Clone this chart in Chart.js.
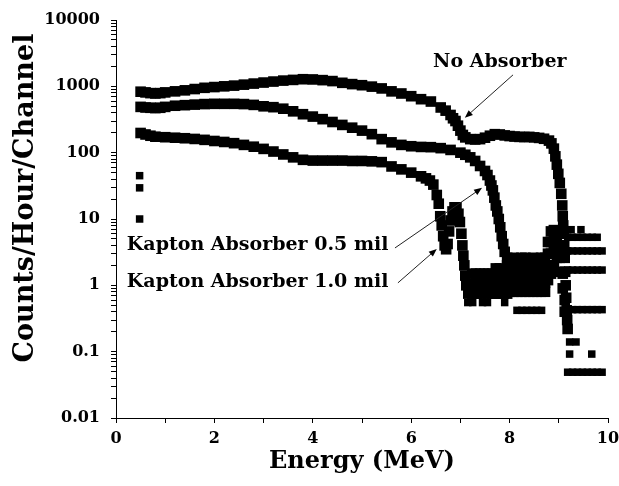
<!DOCTYPE html>
<html>
<head>
<meta charset="utf-8">
<title>Energy spectrum</title>
<script src="https://cdn.jsdelivr.net/npm/chart.js@4.4.1/dist/chart.umd.min.js"></script>
<style>
    html, body { margin: 0; padding: 0; background: #fff; }
    canvas { display: block; }
</style>
</head>
<body>
<canvas id="spectrum" width="619" height="486"></canvas>
<script>
/* Counts per hour per channel vs energy, three absorber settings */

// No absorber
var noAbsE = [0.5, 0.6, 0.7, 0.8, 0.9, 1.0, 1.2, 1.4, 1.6, 1.8, 2.0, 2.2, 2.4, 2.6, 2.8, 3.0,
    3.2, 3.4, 3.6, 3.8, 4.0, 4.2, 4.4, 4.6, 4.8, 5.0, 5.2, 5.4, 5.6, 5.8, 6.0, 6.2, 6.4, 6.6,
    6.7, 6.8, 6.85, 6.9, 6.95, 7.0, 7.05,
    7.1, 7.2, 7.3, 7.4, 7.5, 7.6, 7.7, 7.8, 7.9, 8.0, 8.1, 8.2, 8.3, 8.4, 8.5, 8.6, 8.7, 8.8,
    8.85, 8.9, 8.93, 8.96, 8.99, 9.02, 9.05, 9.07, 9.08, 9.09,
    9.1, 9.11, 9.12, 9.13, 9.14, 9.15, 9.16, 9.17, 9.18];
var noAbsY = [830, 810, 790, 780, 790, 810, 840, 870, 910, 950, 975, 1000, 1025, 1060, 1100, 1140,
    1180, 1220, 1250, 1280, 1270, 1240, 1200, 1130, 1080, 1040, 990, 930, 840, 780, 710, 640, 590, 480,
    430, 370, 330, 300, 255, 215, 185,
    170, 160, 158, 160, 168, 180, 190, 188, 182, 178, 175, 173, 172, 173, 170, 167, 162, 152,
    138, 115, 88, 66, 48, 35, 24, 16, 11, 8,
    6, 4, 2.6, 1.6, 1.0, 0.65, 0.42, 0.3, 0.22];

// Kapton absorber 0.5 mil
var kap05E = [0.5, 0.6, 0.7, 0.8, 0.9, 1.0, 1.2, 1.4, 1.6, 1.8, 2.0, 2.2, 2.4, 2.6, 2.8, 3.0,
    3.2, 3.4, 3.6, 3.8, 4.0, 4.2, 4.4, 4.6, 4.8, 5.0, 5.2, 5.4, 5.6, 5.8, 6.0, 6.2, 6.4, 6.6, 6.8,
    7.0, 7.1, 7.2, 7.3, 7.4, 7.5, 7.55, 7.6, 7.63, 7.66, 7.69, 7.72, 7.75, 7.78, 7.81, 7.84, 7.87, 7.9,
    7.95, 7.95, 7.95, 8.0, 8.0, 8.0, 8.0, 8.08, 8.08, 8.08, 8.08, 8.16, 8.16, 8.16, 8.16,
    8.24, 8.24, 8.24, 8.24, 8.32, 8.32, 8.32, 8.32, 8.4, 8.4, 8.4, 8.4, 8.48, 8.48, 8.48, 8.48,
    8.56, 8.56, 8.56, 8.56, 8.64, 8.64, 8.64, 8.64, 8.72, 8.72, 8.72, 8.72,
    8.78, 8.78, 8.78, 8.78, 8.84, 8.84, 8.84, 8.84, 8.9, 8.9, 8.9, 8.9,
    8.96, 8.96, 8.96, 9.02, 9.02, 9.02, 9.08, 9.08, 9.08, 9.12, 9.12];
var kap05Y = [490, 480, 475, 470, 475, 490, 510, 520, 530, 540, 545, 545, 545, 540, 525, 500,
    485, 460, 420, 380, 350, 320, 290, 262, 238, 215, 190, 160, 143, 131, 125, 122, 121, 117, 110,
    100, 93, 85, 75, 63, 53, 46, 38, 32, 27, 21, 16, 13, 10, 7.5, 5.5, 4.2, 3.2,
    2.6, 2.0, 1.5, 2.0, 1.5, 1.1, 0.8, 2.6, 1.5, 1.1, 0.8, 2.0, 1.5, 1.1, 0.8,
    2.6, 2.0, 1.1, 0.8, 2.6, 1.5, 1.1, 0.8, 2.0, 1.5, 1.1, 0.8, 2.6, 2.0, 1.5, 0.8,
    2.0, 1.5, 1.1, 0.8, 2.6, 1.5, 1.1, 0.8, 2.6, 2.0, 1.1, 0.8,
    4.5, 3.0, 2.0, 1.2, 6.5, 4.5, 3.0, 1.5, 6.8, 5.0, 3.4, 2.0,
    6.0, 4.5, 2.6, 4.0, 2.6, 1.6, 3.0, 1.5, 0.9, 0.6, 0.4];

// Kapton absorber 1.0 mil
var kap10E = [0.5, 0.6, 0.7, 0.8, 1.0, 1.2, 1.4, 1.6, 1.8, 2.0, 2.2, 2.4, 2.6, 2.8, 3.0, 3.2,
    3.4, 3.6, 3.8, 4.0, 4.2, 4.4, 4.6, 4.8, 5.0, 5.2, 5.4, 5.6, 5.8, 6.0, 6.2, 6.3, 6.38, 6.45,
    6.52, 6.56, 6.59, 6.62, 6.65, 6.68, 6.71, 6.74, 6.77, 6.8, 6.84, 6.88, 6.92, 6.96, 6.99,
    7.02, 7.04, 7.06, 7.08, 7.1, 7.12,
    7.16, 7.16, 7.24, 7.24, 7.24, 7.32, 7.32, 7.32, 7.4, 7.4, 7.4, 7.48, 7.48, 7.48,
    7.56, 7.56, 7.56, 7.64, 7.64, 7.64, 7.72, 7.72, 7.72, 7.72, 7.8, 7.8, 7.8, 7.8,
    7.88, 7.88, 7.88, 7.95, 7.95, 7.95];
var kap10Y = [198, 188, 180, 174, 171, 168, 165, 161, 156, 150, 145, 139, 131, 123, 114, 104,
    94, 85, 78, 76, 76, 76, 76, 75, 75, 74, 72, 62, 56, 50, 44, 41, 38, 33,
    23, 17, 11, 8, 5.5, 4, 3.5, 4.2, 6.5, 9.5, 13, 15, 15, 12, 9,
    6, 4, 2.8, 2, 1.4, 1.0,
    1.05, 0.75, 1.5, 1.05, 0.75, 1.5, 1.05, 0.75, 1.5, 1.05, 0.75, 1.5, 1.05, 0.75,
    1.5, 1.05, 0.75, 1.5, 1.05, 0.75, 1.8, 1.5, 1.05, 0.75, 1.8, 1.5, 1.05, 0.75,
    1.5, 1.05, 0.75, 1.5, 1.05, 0.75];

// Isolated low-count channels (single squares and the flat rows past 9 MeV)
var lowE = [0.48, 0.48, 0.48,
    7.15, 7.25, 7.45, 7.55, 7.9,
    8.15, 8.25, 8.35, 8.45, 8.55, 8.65,
    9.25, 9.45,
    9.18, 9.28, 9.38, 9.48, 9.58, 9.68, 9.78,
    9.18, 9.28, 9.38, 9.48, 9.58, 9.68, 9.78, 9.88,
    9.18, 9.28, 9.38, 9.48, 9.58, 9.68, 9.78, 9.88,
    9.18, 9.28, 9.38, 9.48, 9.58, 9.68, 9.78, 9.88,
    9.22, 9.35, 9.22, 9.67,
    9.18, 9.28, 9.38, 9.48, 9.58, 9.68, 9.78, 9.88];
var lowY = [45, 29.5, 10,
    0.55, 0.55, 0.55, 0.55, 0.55,
    0.42, 0.42, 0.42, 0.42, 0.42, 0.42,
    6.9, 6.9,
    5.3, 5.3, 5.3, 5.3, 5.3, 5.3, 5.3,
    3.3, 3.3, 3.3, 3.3, 3.3, 3.3, 3.3, 3.3,
    1.7, 1.7, 1.7, 1.7, 1.7, 1.7, 1.7, 1.7,
    0.43, 0.43, 0.43, 0.43, 0.43, 0.43, 0.43, 0.43,
    0.14, 0.14, 0.092, 0.092,
    0.049, 0.049, 0.049, 0.049, 0.049, 0.049, 0.049, 0.049];

var yDecades = [0.01, 0.1, 1, 10, 100, 1000, 10000];
var yDecadeLabels = ['0.01', '0.1', '1', '10', '100', '1000', '10000'];
var xLabelled = [0, 2, 4, 6, 8, 10];

var notes = [
    { text: 'No Absorber', at: [7.8, 2340], align: 'center', from: [8.07, 1490], to: [7.09, 335] },
    { text: 'Kapton Absorber 0.5 mil', at: [0.22, 4.06], align: 'left', from: [5.67, 3.66], to: [7.44, 29.5] },
    { text: 'Kapton Absorber 1.0 mil', at: [0.22, 1.12], align: 'left', from: [5.73, 1.09], to: [6.52, 3.54] }
];

var FONT = '"DejaVu Serif", "Liberation Serif", serif';

function toPoints(xs, ys) {
    return xs.map(function (x, i) { return { x: x, y: ys[i] }; });
}

function squares(label, xs, ys, radius) {
    return {
        label: label,
        data: toPoints(xs, ys),
        pointStyle: 'rect',
        pointRadius: radius,
        pointBorderWidth: 0,
        backgroundColor: '#000',
        borderColor: '#000',
        showLine: false
    };
}

function drawArrow(c, x1, y1, x2, y2) {
    var ang = Math.atan2(y2 - y1, x2 - x1);
    var len = 8, half = 3.2;
    c.beginPath();
    c.moveTo(x1, y1);
    c.lineTo(x2 - Math.cos(ang) * len * 0.6, y2 - Math.sin(ang) * len * 0.6);
    c.stroke();
    c.beginPath();
    c.moveTo(x2, y2);
    c.lineTo(x2 - Math.cos(ang) * len + Math.sin(ang) * half, y2 - Math.sin(ang) * len - Math.cos(ang) * half);
    c.lineTo(x2 - Math.cos(ang) * len - Math.sin(ang) * half, y2 - Math.sin(ang) * len + Math.cos(ang) * half);
    c.closePath();
    c.fill();
}

var notesPlugin = {
    id: 'notes',
    afterDraw: function (chart) {
        var c = chart.ctx;
        var sx = chart.scales.x, sy = chart.scales.y;
        c.save();
        c.fillStyle = '#000';
        c.strokeStyle = '#222';
        c.lineWidth = 1;
        c.textBaseline = 'middle';
        c.font = 'bold 19px ' + FONT;
        notes.forEach(function (n) {
            c.textAlign = n.align;
            c.fillText(n.text, sx.getPixelForValue(n.at[0]), sy.getPixelForValue(n.at[1]));
            drawArrow(c,
                sx.getPixelForValue(n.from[0]), sy.getPixelForValue(n.from[1]),
                sx.getPixelForValue(n.to[0]), sy.getPixelForValue(n.to[1]));
        });

        // vertical axis title, sits a little above the axis centre
        c.translate(26, 198);
        c.rotate(-Math.PI / 2);
        c.textAlign = 'center';
        c.font = 'bold 27px ' + FONT;
        c.fillText('Counts/Hour/Channel', 0, 0);
        c.restore();
    }
};

var tickFont = { family: FONT, weight: 'bold', size: 16 };

new Chart(document.getElementById('spectrum'), {
    type: 'scatter',
    data: {
        datasets: [
            squares('No Absorber', noAbsE, noAbsY, 7.5),
            squares('Kapton Absorber 0.5 mil', kap05E, kap05Y, 7.5),
            squares('Kapton Absorber 1.0 mil', kap10E, kap10Y, 7.5),
            squares('low counts', lowE, lowY, 5.3)
        ]
    },
    options: {
        responsive: false,
        animation: false,
        devicePixelRatio: 1,
        layout: { padding: { top: 20, right: 11, left: 0, bottom: 0 } },
        plugins: {
            legend: { display: false },
            tooltip: { enabled: false }
        },
        scales: {
            x: {
                type: 'linear',
                min: 0, max: 10,
                ticks: {
                    stepSize: 1,
                    autoSkip: false,
                    maxRotation: 0,
                    padding: 6,
                    color: '#000',
                    font: tickFont,
                    callback: function (v) { return xLabelled.indexOf(v) >= 0 ? String(v) : ''; }
                },
                grid: { drawOnChartArea: false, tickLength: 5, tickColor: '#000', tickWidth: 1 },
                border: { color: '#000', width: 1 },
                title: {
                    display: true,
                    text: 'Energy (MeV)',
                    color: '#000',
                    font: { family: FONT, weight: 'bold', size: 24 },
                    padding: { top: 0, bottom: 10 }
                },
                afterFit: function (s) {
                    s.height = 68;
                    // the layout padding already leaves room for the end labels
                    s.paddingLeft = 0;
                    s.paddingRight = 0;
                }
            },
            y: {
                type: 'logarithmic',
                min: 0.01, max: 10000,
                ticks: {
                    autoSkip: false,
                    padding: 11,
                    color: '#000',
                    font: tickFont,
                    callback: function (v) {
                        for (var i = 0; i < yDecades.length; i++) {
                            if (Math.abs(v - yDecades[i]) < yDecades[i] * 1e-6) return yDecadeLabels[i];
                        }
                        return '';
                    }
                },
                grid: { drawOnChartArea: false, tickLength: 5, tickColor: '#000', tickWidth: 1 },
                border: { color: '#000', width: 1 },
                afterBuildTicks: function (s) {
                    var t = [];
                    for (var d = 0; d < yDecades.length - 1; d++) {
                        for (var m = 1; m <= 9; m++) t.push({ value: m * yDecades[d] });
                    }
                    t.push({ value: yDecades[yDecades.length - 1] });
                    s.ticks = t;
                },
                afterFit: function (s) {
                    s.width = 116;
                    s.paddingTop = 0;
                    s.paddingBottom = 0;
                }
            }
        }
    },
    plugins: [notesPlugin]
});
</script>
</body>
</html>
